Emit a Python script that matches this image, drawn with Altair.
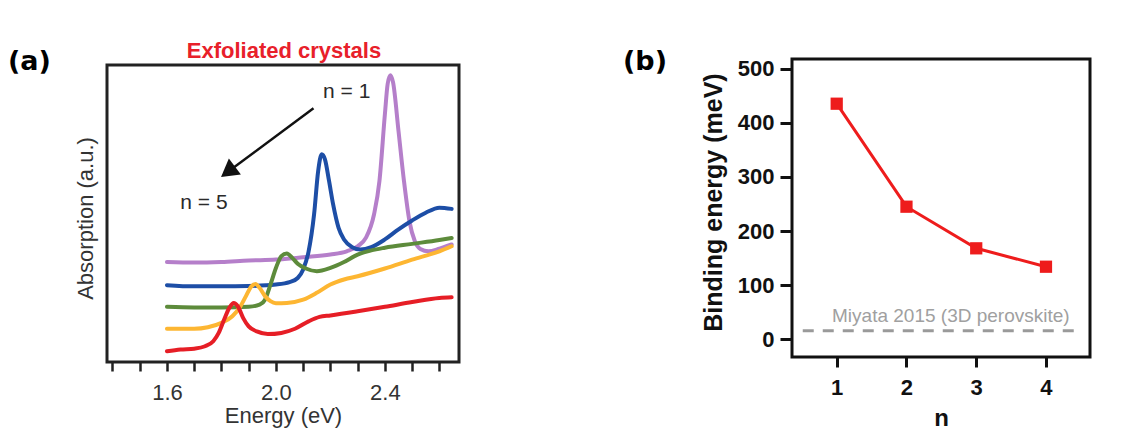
import altair as alt
import pandas as pd

# ---------------- Panel (a): absorption spectra (offset curves) ----------------
series_names = ["n = 1", "n = 2", "n = 3", "n = 4", "n = 5"]
series_colors = ["#b57fca", "#1d4ea6", "#5d8b3b", "#fdb632", "#e61e26"]

e_n1 = [1.60, 1.70, 1.80, 1.90, 2.00, 2.10, 2.20, 2.26, 2.30, 2.33, 2.36, 2.38, 2.40, 2.41,
        2.42, 2.43, 2.45, 2.47, 2.49, 2.51, 2.53, 2.56, 2.60, 2.645]
a_n1 = [33.7, 33.5, 33.7, 34.2, 34.5, 35.3, 36.2, 37.3, 39.0, 41.8, 49.7, 61.0, 83.5, 93.6,
        96.6, 94.2, 77.8, 61.0, 47.5, 40.7, 38.1, 37.3, 38.2, 39.6]

e_n2 = [1.60, 1.70, 1.80, 1.90, 2.00, 2.05, 2.08, 2.10, 2.12, 2.14, 2.155, 2.168, 2.18, 2.195,
        2.21, 2.23, 2.25, 2.28, 2.31, 2.35, 2.40, 2.45, 2.50, 2.55, 2.60, 2.645]
a_n2 = [25.9, 25.5, 25.5, 25.6, 26.1, 26.9, 28.3, 31.2, 37.3, 49.7, 64.3, 70.0, 68.3, 61.0,
        53.1, 45.2, 41.3, 38.7, 37.9, 38.7, 41.3, 44.7, 47.7, 50.3, 52.0, 51.6]

e_n3 = [1.60, 1.70, 1.80, 1.90, 1.94, 1.96, 1.98, 2.00, 2.02, 2.04, 2.06, 2.08, 2.11, 2.15,
        2.20, 2.25, 2.30, 2.35, 2.40, 2.50, 2.60, 2.645]
a_n3 = [18.6, 18.4, 18.4, 18.6, 19.3, 21.0, 26.1, 31.7, 35.7, 36.6, 35.1, 33.1, 31.5, 30.6,
        31.7, 33.7, 36.2, 37.6, 38.5, 39.8, 41.1, 41.8]

e_n4 = [1.60, 1.70, 1.75, 1.80, 1.84, 1.87, 1.89, 1.91, 1.925, 1.94, 1.96, 1.98, 2.00, 2.04,
        2.10, 2.15, 2.20, 2.25, 2.30, 2.40, 2.50, 2.60, 2.645]
a_n4 = [11.2, 11.2, 11.7, 13.2, 15.4, 18.8, 22.2, 25.5, 26.3, 25.0, 22.2, 20.5, 19.8, 19.9,
        21.0, 23.3, 26.1, 27.8, 28.9, 31.5, 34.5, 37.3, 39.0]

e_n5 = [1.60, 1.65, 1.70, 1.74, 1.77, 1.79, 1.81, 1.83, 1.845, 1.86, 1.88, 1.90, 1.93, 1.97,
        2.02, 2.07, 2.12, 2.16, 2.20, 2.30, 2.40, 2.50, 2.60, 2.645]
a_n5 = [3.6, 4.2, 4.5, 5.3, 7.0, 9.8, 14.3, 18.4, 19.9, 18.8, 14.8, 12.0, 10.3, 9.4,
        9.8, 11.2, 13.7, 15.2, 15.7, 17.1, 18.6, 20.2, 21.6, 21.8]

energy_ticks = [1.4, 1.5, 1.6, 1.7, 1.8, 1.9, 2.0, 2.1, 2.2, 2.3, 2.4, 2.5, 2.6]
energy_labels = ["1.6", "2.0", "2.4"]

arrow_e = [2.138, 1.824]
arrow_a = [85.5, 64.1]
annot_text = ["n = 1", "n = 5"]
annot_e = [2.173, 1.649]
annot_a = [89.0, 51.4]

# ---------------- Panel (b): binding energy ----------------
n_layers = [1, 2, 3, 4]
binding_mev = [435.3, 245.0, 168.1, 134.1]
miyata_mev = 16.0
miyata_span = [0.513, 4.497]
miyata_label = "Miyata 2015 (3D perovskite)"

FONT = "Liberation Sans"
DARK = "#222222"

# ---------- build panel (a) ----------
rows = []
for name, es, as_ in zip(series_names, [e_n1, e_n2, e_n3, e_n4, e_n5],
                         [a_n1, a_n2, a_n3, a_n4, a_n5]):
    for e, a in zip(es, as_):
        rows.append({"series": name, "E": e, "A": a})
spec_df = pd.DataFrame(rows)

WA, HA = 352, 303
xa = alt.X("E:Q", scale=alt.Scale(domain=[1.380, 2.672], nice=False, zero=False),
           axis=alt.Axis(values=energy_ticks, format=".1f",
                         labelExpr="indexof(" + str(energy_labels) + ", datum.label) >= 0 ? datum.label : ''",
                         tickSize=9, tickWidth=2.5, tickColor=DARK, domain=False, grid=False,
                         labelFont=FONT, labelFontSize=22, labelColor="#333333", labelPadding=11,
                         labelOverlap=False, labelFlush=False,
                         title="Energy (eV)", titleFont=FONT, titleFontSize=22,
                         titleFontWeight="normal", titleColor="#333333", titlePadding=2))
ya = alt.Y("A:Q", scale=alt.Scale(domain=[0, 102.1], nice=False, zero=False),
           axis=alt.Axis(ticks=False, labels=False, domain=False, grid=False,
                         title="Absorption (a.u.)", titleFont=FONT, titleFontSize=22,
                         titleFontWeight="normal", titleColor="#333333", titlePadding=10,
                         titleY=159))

frame_a = alt.Chart(pd.DataFrame({"k": [0]})).mark_rect(
    fill="transparent", stroke=DARK, strokeWidth=3
).encode(x=alt.value(0), x2=alt.value(WA), y=alt.value(6), y2=alt.value(HA))

curves = alt.Chart(spec_df).mark_line(strokeWidth=4, interpolate="monotone", strokeCap="round").encode(
    x=xa, y=ya,
    color=alt.Color("series:N", scale=alt.Scale(domain=series_names, range=series_colors), legend=None),
)

arrow_df = pd.DataFrame({"E": arrow_e, "A": arrow_a})
arrow_line = alt.Chart(arrow_df).mark_line(color="#111111", strokeWidth=2.5).encode(x=xa, y=ya)
arrow_head = alt.Chart(arrow_df.iloc[[1]]).mark_point(
    shape="triangle-up", angle=233, size=400, filled=True, color="#111111", opacity=1
).encode(x=xa, y=ya)

annot = alt.Chart(pd.DataFrame({"E": annot_e, "A": annot_a, "t": annot_text})).mark_text(
    font=FONT, fontSize=21, color="#2a2a2a", align="left", baseline="alphabetic"
).encode(x=xa, y=ya, text="t:N")

title_a = alt.Chart(pd.DataFrame({"t": ["Exfoliated crystals"]})).mark_text(
    font=FONT, fontSize=22, fontWeight="bold", color="#e8202a", align="center", baseline="alphabetic"
).encode(x=alt.value(177), y=alt.value(-1.3), text="t:N")

tag_a = alt.Chart(pd.DataFrame({"t": ["(a)"]})).mark_text(
    font="DejaVu Sans", fontSize=27, fontWeight="bold", color="#000000", align="left", baseline="middle"
).encode(x=alt.value(-99), y=alt.value(3), text="t:N")

panel_a = alt.layer(frame_a, curves, arrow_line, arrow_head, annot, title_a, tag_a).properties(
    width=WA, height=HA, view=alt.ViewBackground(stroke="transparent", strokeWidth=0)
)

# ---------- build panel (b) ----------
WB, HB = 298, 298
xb = alt.X("n:Q", scale=alt.Scale(domain=[0.359, 4.631], nice=False, zero=False),
           axis=alt.Axis(values=n_layers, format="d", tickSize=10, tickWidth=3, tickColor="#111111",
                         domain=False, grid=False, labelFont=FONT, labelFontSize=22,
                         labelFontWeight="bold", labelColor="#111111", labelPadding=10,
                         labelFlush=False,
                         title="n", titleFont=FONT, titleFontSize=24, titleFontWeight="bold",
                         titleColor="#111111", titlePadding=8))
yb = alt.Y("BE:Q", scale=alt.Scale(domain=[-32.7, 517.9], nice=False, zero=False),
           axis=alt.Axis(values=[0, 100, 200, 300, 400, 500], tickSize=12, tickWidth=3,
                         tickColor="#111111", domain=False, grid=False, labelFont=FONT,
                         labelFontSize=22, labelFontWeight="bold", labelColor="#111111",
                         labelPadding=6, labelFlush=False,
                         title="Binding energy (meV)", titleFont=FONT, titleFontSize=25,
                         titleFontWeight="bold", titleColor="#111111", titlePadding=11,
                         titleY=143))

be_df = pd.DataFrame({"n": n_layers, "BE": binding_mev})
ref_df = pd.DataFrame({"n": [miyata_span[0]], "n2": [miyata_span[1]], "BE": [miyata_mev]})

ref_line = alt.Chart(ref_df).mark_rule(color="#9a9a9a", strokeWidth=3, strokeDash=[11, 9]).encode(
    x=xb, x2="n2:Q", y=yb)
ref_text = alt.Chart(pd.DataFrame({"n": [0.933], "BE": [32.5], "t": [miyata_label]})).mark_text(
    font=FONT, fontSize=19, color="#a0a0a0", align="left", baseline="alphabetic"
).encode(x=xb, y=yb, text="t:N")
be_line = alt.Chart(be_df).mark_line(color="#ee1c1c", strokeWidth=3).encode(x=xb, y=yb)
be_pts = alt.Chart(be_df).mark_point(shape="square", filled=True, size=150, color="#ee1c1c",
                                     opacity=1).encode(x=xb, y=yb)
tag_b = alt.Chart(pd.DataFrame({"t": ["(b)"]})).mark_text(
    font="DejaVu Sans", fontSize=27, fontWeight="bold", color="#000000", align="left", baseline="middle"
).encode(x=alt.value(-169), y=alt.value(3), text="t:N")

panel_b = alt.layer(ref_line, ref_text, be_line, be_pts, tag_b).properties(
    width=WB, height=HB, view=alt.ViewBackground(stroke="#111111", strokeWidth=3)
)

chart = alt.hconcat(panel_a, panel_b, spacing=333, bounds="flush").properties(
    padding={"left": 0, "top": 31, "right": 0, "bottom": 0},
    background="white",
)

chart.save("out.html", embed_options={"renderer": "svg", "actions": False})
